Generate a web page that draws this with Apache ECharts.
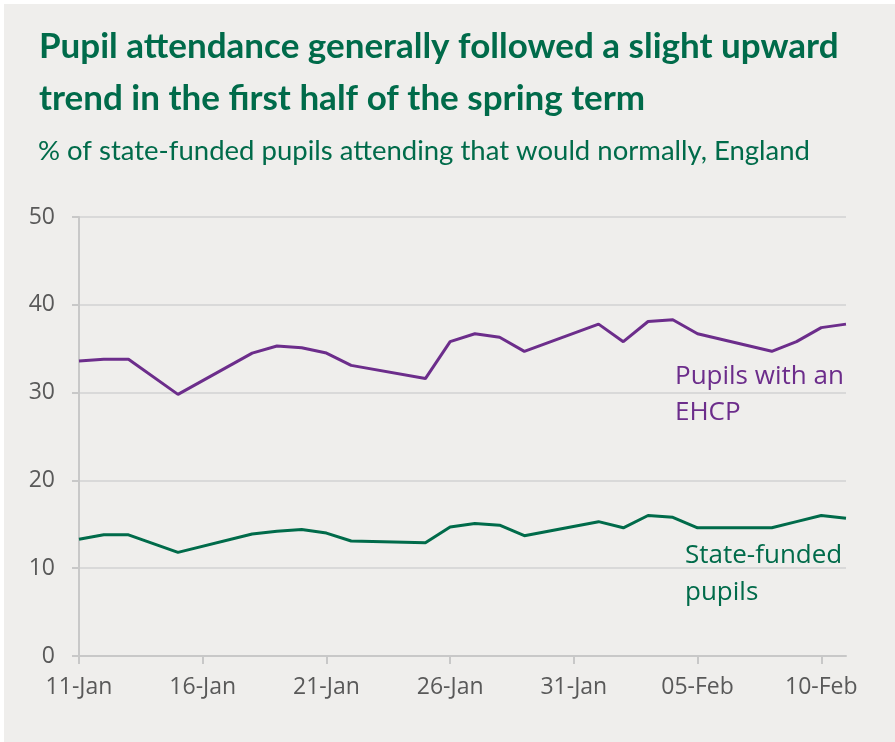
<!DOCTYPE html>
<html>
<head>
<meta charset="utf-8">
<script src="https://cdn.jsdelivr.net/npm/echarts@6/dist/echarts.min.js"></script>
<style>
html,body{margin:0;padding:0;background:#ffffff;}
#chart{position:absolute;left:4px;top:4px;width:891px;height:738px;}
</style>
</head>
<body>
<div id="chart"></div>
<script>
const categories = [
  '11-Jan','12-Jan','13-Jan','14-Jan','15-Jan','16-Jan','17-Jan','18-Jan','19-Jan','20-Jan',
  '21-Jan','22-Jan','23-Jan','24-Jan','25-Jan','26-Jan','27-Jan','28-Jan','29-Jan','30-Jan',
  '31-Jan','01-Feb','02-Feb','03-Feb','04-Feb','05-Feb','06-Feb','07-Feb','08-Feb','09-Feb',
  '10-Feb','11-Feb'
];
const ehcpValues = [
  33.6, 33.8, 33.8, null, 29.8, null, null, 34.5, 35.3, 35.1,
  34.5, 33.1, null, null, 31.6, 35.8, 36.7, 36.3, 34.7, null,
  null, 37.8, 35.8, 38.1, 38.3, 36.7, null, null, 34.7, 35.8,
  37.4, 37.8
];
const stateValues = [
  13.3, 13.8, 13.8, null, 11.8, null, null, 13.9, 14.2, 14.4,
  14.0, 13.1, null, null, 12.9, 14.7, 15.1, 14.9, 13.7, null,
  null, 15.3, 14.6, 16.0, 15.8, 14.6, null, null, 14.6, 15.3,
  16.0, 15.7
];
const yTicks = [0, 10, 20, 30, 40, 50];

const GREEN = '#006b4a';
const PURPLE = '#6c2d8b';
const AXIS_TEXT = '#595959';

const chart = echarts.init(document.getElementById('chart'));
chart.setOption({
  backgroundColor: '#efeeec',
  animation: false,
  title: [
    {
      text: 'Pupil attendance generally followed a slight upward\ntrend in the first half of the spring term',
      left: 30, top: 12,
      textStyle: { fontFamily: 'Lato', fontWeight: 'bold', fontSize: 35, lineHeight: 52, color: GREEN }
    },
    {
      text: '% of state-funded pupils attending that would normally, England',
      left: 29, top: 126,
      textStyle: { fontFamily: 'Lato', fontWeight: 'normal', fontSize: 27.5, lineHeight: 32, color: GREEN }
    }
  ],
  grid: { left: 75, right: 49, top: 213, bottom: 86, containLabel: false },
  xAxis: {
    type: 'category',
    data: categories,
    boundaryGap: false,
    axisLine: { show: true, lineStyle: { color: '#c8c8c8', width: 2 } },
    axisTick: { show: true, interval: 4, length: 8, lineStyle: { color: '#c8c8c8', width: 2 } },
    axisLabel: { interval: 4, margin: 20, color: AXIS_TEXT, fontFamily: 'Open Sans', fontSize: 23 },
    splitLine: { show: false }
  },
  yAxis: {
    type: 'value',
    min: yTicks[0], max: yTicks[yTicks.length - 1], interval: 10,
    axisLine: { show: true, lineStyle: { color: '#c8c8c8', width: 2 } },
    axisTick: { show: true, length: 7, lineStyle: { color: '#c8c8c8', width: 2 } },
    axisLabel: { margin: 24, color: AXIS_TEXT, fontFamily: 'Open Sans', fontSize: 23 },
    splitLine: { show: true, lineStyle: { color: '#d9d9d9', width: 2 } }
  },
  series: [
    {
      name: 'Pupils with an EHCP', type: 'line', data: ehcpValues, connectNulls: true,
      symbol: 'none', lineStyle: { color: PURPLE, width: 3 }, itemStyle: { color: PURPLE }, z: 3
    },
    {
      name: 'State-funded pupils', type: 'line', data: stateValues, connectNulls: true,
      symbol: 'none', lineStyle: { color: GREEN, width: 3 }, itemStyle: { color: GREEN }, z: 3
    }
  ],
  graphic: [
    {
      type: 'text', left: 671, top: 355,
      style: { text: 'Pupils with an\nEHCP', fill: PURPLE, font: '26px "Open Sans"', lineHeight: 36 }
    },
    {
      type: 'text', left: 681, top: 533,
      style: { text: 'State-funded\npupils', fill: GREEN, font: '26px "Open Sans"', lineHeight: 37 }
    }
  ]
});
</script>
</body>
</html>
